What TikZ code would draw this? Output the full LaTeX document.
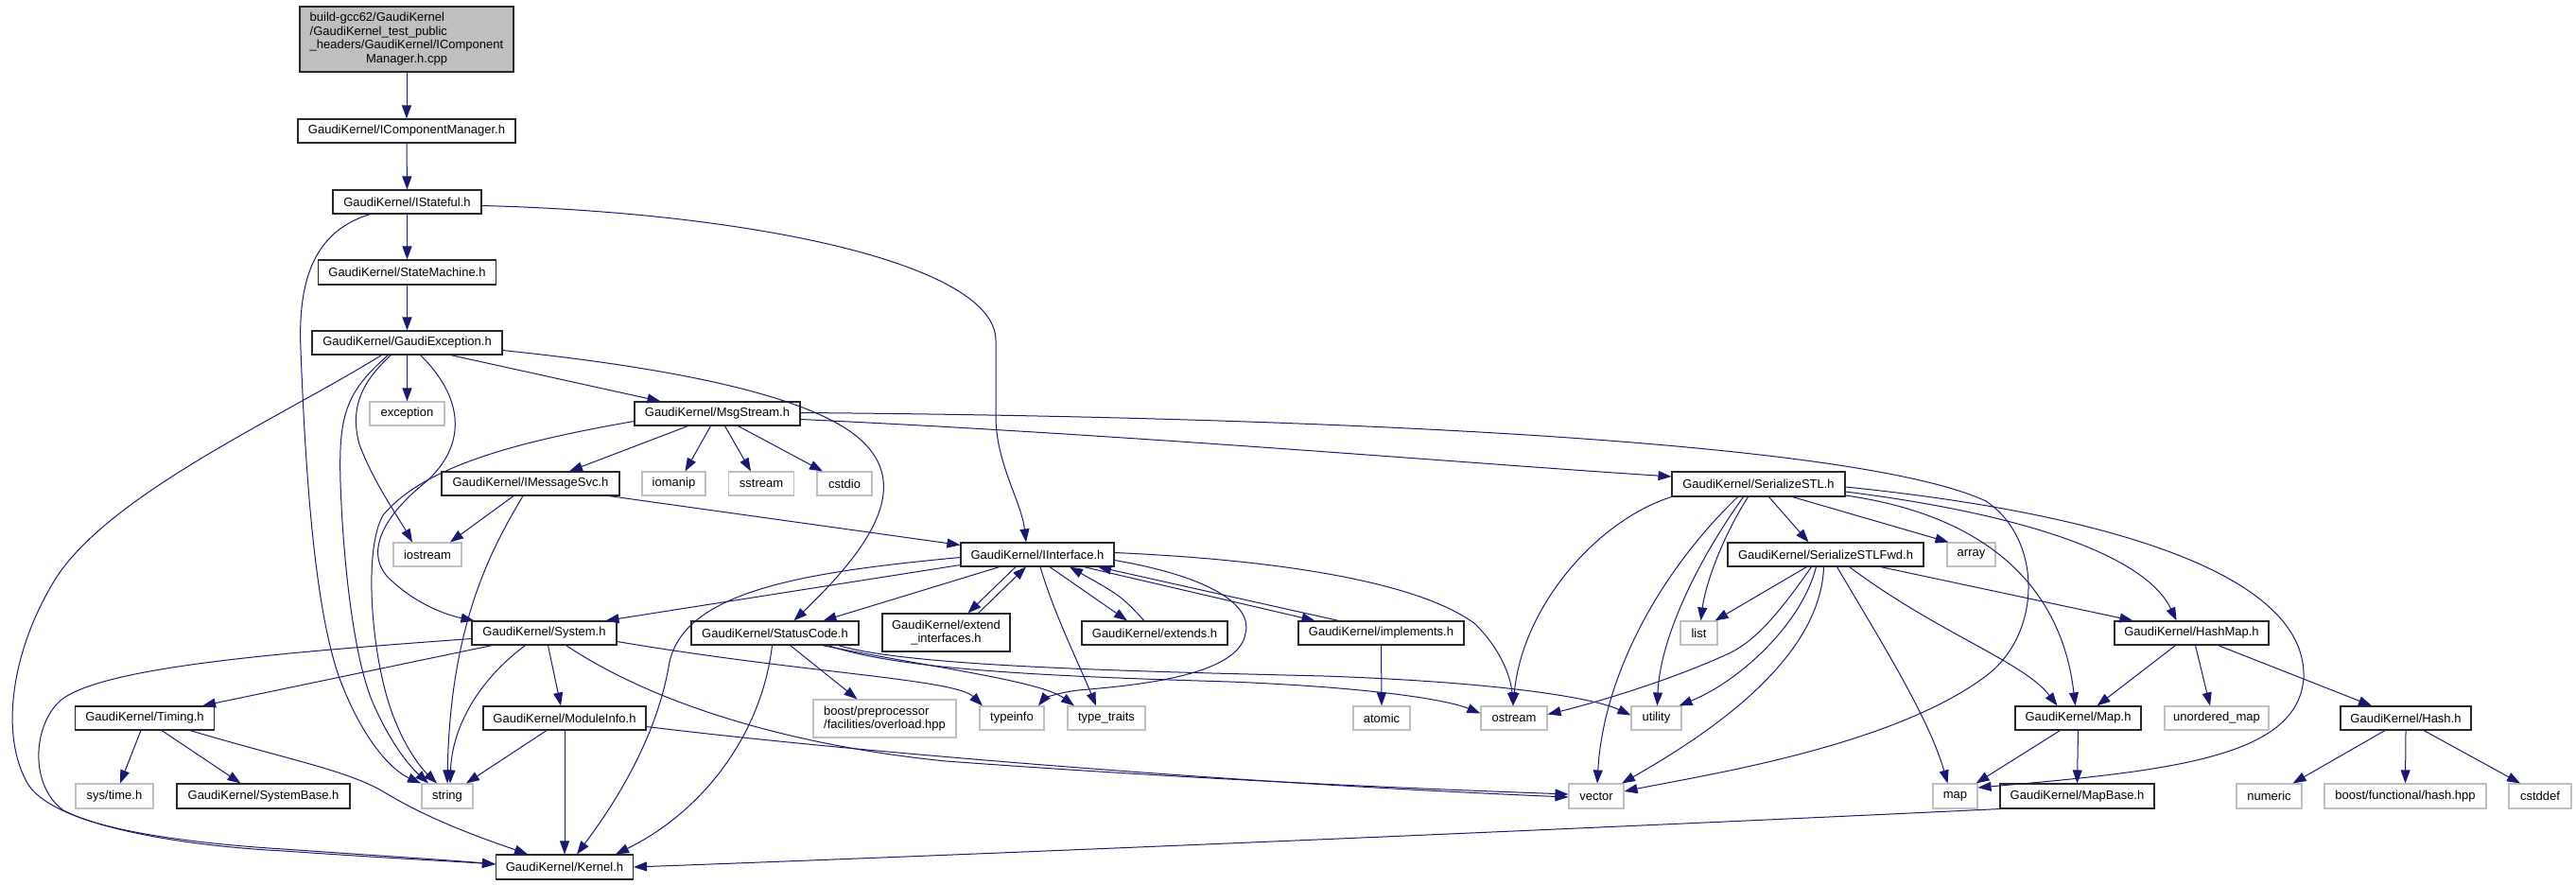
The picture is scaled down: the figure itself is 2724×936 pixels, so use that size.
\documentclass[tikz,border=0pt]{standalone}
\usepackage{fontspec}
\setmainfont{Liberation Sans}
\usetikzlibrary{arrows.meta}
\definecolor{edgeblue}{RGB}{25,25,112}
\definecolor{lgray}{RGB}{191,191,191}
\definecolor{boxline}{RGB}{40,40,40}
\begin{document}
\begin{tikzpicture}[x=1pt,y=-1pt,
  hdr/.style={draw=boxline, line width=1.1pt, fill=white, inner sep=0pt, minimum height=25pt, font=\fontsize{13}{14.6}\selectfont},
  sysh/.style={hdr, draw=lgray},
  lnk/.style={draw=edgeblue, line width=1.0pt, -{Triangle[length=14pt,width=10pt]}}]
\useasboundingbox (0,0) rectangle (2724,936);
% nodes
\node[hdr, fill=lgray, minimum width=226pt, minimum height=69pt] (root) at (430,41.5) {\begin{tabular}{@{}l@{}}build-gcc62/GaudiKernel\\/GaudiKernel\_test\_public\\\_headers/GaudiKernel/IComponent\\\multicolumn{1}{@{}c@{}}{Manager.h.cpp}\end{tabular}};
\node[hdr, minimum width=230pt] (icm) at (430,138.5) {GaudiKernel/IComponentManager.h};
\node[hdr, minimum width=157pt] (istf) at (430.5,213.5) {GaudiKernel/IStateful.h};
\node[hdr, minimum width=188pt, minimum height=26pt] (stm) at (430.5,288) {GaudiKernel/StateMachine.h};
\node[hdr, minimum width=201pt] (gexc) at (430.5,362.5) {GaudiKernel/GaudiException.h};
\node[sysh, minimum width=79pt] (exc) at (430.5,437.5) {exception};
\node[hdr, minimum width=175pt] (msg) at (758.5,437.5) {GaudiKernel/MsgStream.h};
\node[hdr, minimum width=188pt] (imsg) at (561,511.5) {GaudiKernel/IMessageSvc.h};
\node[sysh, minimum width=67pt] (iomanip) at (712.5,511.5) {iomanip};
\node[sysh, minimum width=69pt] (sstream) at (805,511.5) {sstream};
\node[sysh, minimum width=58pt] (cstdio) at (893,511.5) {cstdio};
\node[hdr, minimum width=183pt, minimum height=26pt] (sstl) at (1859.5,512) {GaudiKernel/SerializeSTL.h};
\node[sysh, minimum width=72pt] (iostream) at (452,586.5) {iostream};
\node[hdr, minimum width=162pt] (ifc) at (1097,586.5) {GaudiKernel/IInterface.h};
\node[hdr, minimum width=207pt] (sfwd) at (1930.5,586.5) {GaudiKernel/SerializeSTLFwd.h};
\node[sysh, minimum width=51pt] (array) at (2084.5,586.5) {array};
\node[hdr, minimum width=153pt] (sys) at (575.5,669.5) {GaudiKernel/System.h};
\node[hdr, minimum width=177pt] (sc) at (819.5,669.5) {GaudiKernel/StatusCode.h};
\node[hdr, minimum width=135pt, minimum height=40pt, align=center] (extif) at (1000.5,669) {GaudiKernel/extend\\\_interfaces.h};
\node[hdr, minimum width=154pt] (exts) at (1221,669.5) {GaudiKernel/extends.h};
\node[hdr, minimum width=175pt] (impl) at (1460.5,669.5) {GaudiKernel/implements.h};
\node[sysh, minimum width=39pt] (list) at (1796.5,669.5) {list};
\node[hdr, minimum width=163pt] (hmap) at (2317.5,669.5) {GaudiKernel/HashMap.h};
\node[hdr, minimum width=147pt] (timing) at (153,759.5) {GaudiKernel/Timing.h};
\node[hdr, minimum width=172pt] (modinfo) at (597,759.5) {GaudiKernel/ModuleInfo.h};
\node[sysh, minimum width=151pt, minimum height=40pt, align=left] (bpp) at (935.5,760) {boost/preprocessor\\/facilities/overload.hpp};
\node[sysh, minimum width=68pt] (typeinfo) at (1070,759.5) {typeinfo};
\node[sysh, minimum width=82pt] (typetraits) at (1170,759.5) {type\_traits};
\node[sysh, minimum width=60pt] (atomic) at (1461,759.5) {atomic};
\node[sysh, minimum width=70pt] (ostream) at (1601,759.5) {ostream};
\node[sysh, minimum width=53pt] (utility) at (1751.5,759.5) {utility};
\node[hdr, minimum width=133pt] (mapf) at (2197.5,759.5) {GaudiKernel/Map.h};
\node[sysh, minimum width=110pt] (umap) at (2344,759.5) {unordered\_map};
\node[hdr, minimum width=138pt] (hash) at (2544,759.5) {GaudiKernel/Hash.h};
\node[sysh, minimum width=82pt, minimum height=26pt] (systime) at (121,842) {sys/time.h};
\node[hdr, minimum width=183pt, minimum height=26pt] (sysbase) at (278.5,842) {GaudiKernel/SystemBase.h};
\node[sysh, minimum width=54pt, minimum height=26pt] (string) at (473,842) {string};
\node[sysh, minimum width=58pt, minimum height=26pt] (vector) at (1688,842) {vector};
\node[sysh, minimum width=47pt, minimum height=26pt] (map) at (2067.5,842) {map};
\node[hdr, minimum width=163pt, minimum height=26pt] (mapbase) at (2196.5,842) {GaudiKernel/MapBase.h};
\node[sysh, minimum width=69pt, minimum height=26pt] (numeric) at (2399.5,842) {numeric};
\node[sysh, minimum width=171pt, minimum height=26pt] (bfh) at (2543.5,842) {boost/functional/hash.hpp};
\node[sysh, minimum width=66pt, minimum height=26pt] (cstddef) at (2686,842) {cstddef};
\node[hdr, minimum width=145pt, minimum height=26pt] (kernel) at (597,917) {GaudiKernel/Kernel.h};
% edges
\draw[lnk] (root.south) -- (icm.north);
\draw[lnk] (icm.south) -- (istf.north);
\draw[lnk] (istf.south) -- (stm.north);
\draw[lnk] (stm.south) -- (gexc.north);
\draw[lnk] (gexc.south) -- (exc.north);
\draw[lnk] ([xshift=46]gexc.south) -- ([xshift=-60]msg.north);
\draw[lnk] ([xshift=-17]gexc.south) .. controls (375,410) and (372,440) .. (380,470) .. controls (395,510) and (420,545) .. ([xshift=-16]iostream.north);
\draw[lnk] ([xshift=-20]gexc.south) .. controls (365,415) and (358,440) .. (360,510) .. controls (363,600) and (375,700) .. (395,745) .. controls (415,790) and (435,812) .. ([xshift=-20]string.north);
\draw[lnk] ([xshift=-27]gexc.south) .. controls (300,440) and (120,520) .. (60,610) .. controls (10,690) and (0,780) .. (30,830) .. controls (60,875) and (200,895) .. (300,900) .. controls (400,907) and (480,911) .. ([yshift=3]kernel.west);
\draw[lnk] ([xshift=14]gexc.south) .. controls (490,420) and (495,470) .. (450,510) .. controls (400,550) and (385,590) .. (415,615) .. controls (440,638) and (470,650) .. ([xshift=-74]sys.north);
\draw[lnk] ([yshift=-8]gexc.east) .. controls (720,390) and (860,420) .. (910,465) .. controls (960,510) and (930,570) .. ([xshift=20]sc.north);
\draw[lnk] ([xshift=-31]msg.south) -- ([xshift=41]imsg.north);
\draw[lnk] ([xshift=-7]msg.south) -- ([xshift=12]iomanip.north);
\draw[lnk] ([xshift=8]msg.south) -- ([xshift=-11]sstream.north);
\draw[lnk] ([xshift=22]msg.south) -- ([xshift=-23]cstdio.north);
\draw[lnk] ([yshift=-8]msg.west) .. controls (560,465) and (450,490) .. (405,545) .. controls (385,580) and (392,680) .. (410,740) .. controls (425,790) and (448,815) .. ([xshift=-11]string.north);
\draw[lnk] ([yshift=-6]msg.east) .. controls (1200,460) and (1550,490) .. ([yshift=8]sstl.west);
\draw[lnk] ([yshift=1]msg.east) .. controls (1300,440) and (1950,460) .. (2100,530) .. controls (2160,570) and (2160,670) .. (2100,715) .. controls (2000,790) and (1800,820) .. ([yshift=5]vector.east);
\draw[lnk] ([xshift=-18]imsg.south) -- ([xshift=24]iostream.north);
\draw[lnk] ([xshift=-8]imsg.south) .. controls (520,580) and (476,660) .. ([xshift=0]string.north);
\draw[lnk] ([xshift=83]imsg.south) -- ([yshift=-3]ifc.north west);
\draw[lnk] ([xshift=-39]istf.south) .. controls (330,245) and (315,300) .. (318,370) .. controls (322,470) and (330,640) .. (360,720) .. controls (385,785) and (415,815) .. ([xshift=-28]string.north);
\draw[lnk] ([yshift=-4]istf.east) .. controls (800,225) and (1053,280) .. (1053,360) -- (1053,440) .. controls (1053,490) and (1080,530) .. ([xshift=-12]ifc.north);
\draw[lnk] ([xshift=-55]sys.south) -- ([xshift=61]timing.north);
\draw[lnk] ([xshift=4]sys.south) -- ([xshift=-4]modinfo.north);
\draw[lnk] ([xshift=-20]sys.south) .. controls (505,720) and (478,770) .. ([xshift=3]string.north);
\draw[lnk] ([yshift=-6]sys.west) .. controls (300,690) and (110,705) .. (65,740) .. controls (35,765) and (30,830) .. (67,857) .. controls (120,885) and (250,895) .. (300,898) .. controls (400,905) and (480,910) .. ([yshift=3]kernel.west);
\draw[lnk] ([yshift=-9]sys.east) .. controls (850,712) and (1010,718) .. ([xshift=-31]typeinfo.north);
\draw[lnk] ([xshift=23]sys.south) .. controls (700,750) and (850,790) .. (1000,805) .. controls (1300,827) and (1550,836) .. ([yshift=2]vector.west);
\draw[lnk] ([xshift=-19]modinfo.south) -- ([xshift=20]string.north);
\draw[lnk] (modinfo.south) -- (kernel.north);
\draw[lnk] ([yshift=-9]modinfo.east) .. controls (900,795) and (1300,828) .. ([yshift=-1]vector.west);
\draw[lnk] ([xshift=-4]timing.south) -- ([xshift=6]systime.north);
\draw[lnk] ([xshift=18]timing.south) -- ([xshift=-24]sysbase.north);
\draw[lnk] ([xshift=48]timing.south) .. controls (310,805) and (370,815) .. (410,840) .. controls (460,870) and (520,890) .. ([xshift=-39]kernel.north);
\draw[lnk] ([yshift=-11]ifc.west) -- ([xshift=65]sys.north);
\draw[lnk] ([yshift=-3]ifc.west) .. controls (850,605) and (725,625) .. (708,700) .. controls (695,780) and (650,850) .. ([xshift=13]kernel.north);
\draw[lnk] ([xshift=-40]ifc.south) -- ([xshift=51]sc.north);
\draw[lnk] ([xshift=-23]ifc.south) -- ([xshift=23]extif.north);
\draw[lnk] ([xshift=34]extif.north) -- ([xshift=-12]ifc.south);
\draw[lnk] ([xshift=13]ifc.south) -- ([xshift=-29]exts.north);
\draw[lnk] ([xshift=-11]exts.north) .. controls (1185,630) .. ([xshift=34]ifc.south);
\draw[lnk] ([xshift=49]ifc.south) -- ([xshift=-70]impl.north);
\draw[lnk] ([xshift=-45]impl.north) -- ([xshift=64]ifc.south);
\draw[lnk] ([yshift=-6]ifc.east) .. controls (1280,610) and (1325,640) .. (1317,670) .. controls (1310,715) and (1200,725) .. (1140,730) .. controls (1115,733) and (1103,740) .. ([xshift=28]typeinfo.north);
\draw[lnk] ([xshift=3]ifc.south) .. controls (1115,650) and (1140,700) .. ([xshift=-11]typetraits.north);
\draw[lnk] ([yshift=2]ifc.east) .. controls (1350,592) and (1500,615) .. (1560,660) .. controls (1590,690) and (1598,720) .. ([xshift=-1]ostream.north);
\draw[lnk] ([xshift=-3]sc.south) .. controls (805,780) and (740,860) .. ([xshift=54]kernel.north);
\draw[lnk] ([xshift=16]sc.south) -- ([xshift=-29]bpp.north);
\draw[lnk] ([xshift=50]sc.south) .. controls (980,705) and (1100,720) .. ([xshift=-34]typetraits.north);
\draw[lnk] ([xshift=56]sc.south) .. controls (950,708) and (1100,715) .. (1300,721) .. controls (1450,727) and (1530,740) .. ([yshift=5]ostream.west);
\draw[lnk] ([xshift=67]sc.south) .. controls (960,705) and (1200,710) .. (1400,715) .. controls (1600,722) and (1690,740) .. ([yshift=3]utility.west);
\draw[lnk] (impl.south) -- (atomic.north);
\draw[lnk] ([xshift=11]sstl.south) -- ([xshift=-18]sfwd.north);
\draw[lnk] ([xshift=36]sstl.south) -- ([xshift=-24]array.north);
\draw[lnk] ([xshift=-11]sstl.south) .. controls (1820,570) and (1803,620) .. ([xshift=2]list.north);
\draw[lnk] ([xshift=-16]sstl.south) .. controls (1790,600) and (1755,680) .. ([xshift=1]utility.north);
\draw[lnk] ([xshift=-22]sstl.south) .. controls (1750,610) and (1695,720) .. ([xshift=1]vector.north);
\draw[lnk] (sstl.south west) .. controls (1690,550) and (1610,640) .. ([xshift=-1]ostream.north);
\draw[lnk] ([yshift=-8]sstl.east) .. controls (2150,545) and (2270,590) .. ([xshift=-16]hmap.north);
\draw[lnk] ([yshift=-12]sstl.east) .. controls (2100,545) and (2180,620) .. ([xshift=-3]mapf.north);
\draw[lnk] ([yshift=-3]sstl.east) .. controls (2200,540) and (2440,600) .. (2436,717) .. controls (2430,800) and (2300,815) .. ([yshift=9]map.east);
\draw[lnk] ([xshift=-20]sfwd.south) -- ([xshift=17]list.north);
\draw[lnk] ([xshift=-15]sfwd.south) .. controls (1880,650) and (1855,680) .. (1824,693) .. controls (1760,722) and (1680,745) .. ([yshift=4]ostream.east);
\draw[lnk] ([xshift=-10]sfwd.south) .. controls (1905,660) and (1840,720) .. ([xshift=24]utility.north);
\draw[lnk] ([xshift=-2]sfwd.south) .. controls (1925,700) and (1800,780) .. ([xshift=27]vector.north);
\draw[lnk] ([xshift=12]sfwd.south) .. controls (1990,680) and (2040,760) .. ([xshift=-8]map.north);
\draw[lnk] ([xshift=25]sfwd.south) .. controls (2050,670) and (2140,700) .. ([xshift=-22]mapf.north);
\draw[lnk] ([xshift=58]sfwd.south) -- ([xshift=-62]hmap.north);
\draw[lnk] ([xshift=-17]hmap.south) -- ([xshift=20]mapf.north);
\draw[lnk] ([xshift=4]hmap.south) -- ([xshift=-7]umap.north);
\draw[lnk] ([xshift=28]hmap.south) -- ([xshift=-36]hash.north);
\draw[lnk] ([xshift=-19]mapf.south) -- ([xshift=22]map.north);
\draw[lnk] (mapf.south) -- (mapbase.north);
\draw[lnk] (mapbase.south west) .. controls (1600,880) and (1000,905) .. (kernel.east);
\draw[lnk] ([xshift=-22]hash.south) -- ([xshift=25]numeric.north);
\draw[lnk] (hash.south) -- (bfh.north);
\draw[lnk] ([xshift=19]hash.south) -- ([xshift=-21]cstddef.north);
\end{tikzpicture}
\end{document}
